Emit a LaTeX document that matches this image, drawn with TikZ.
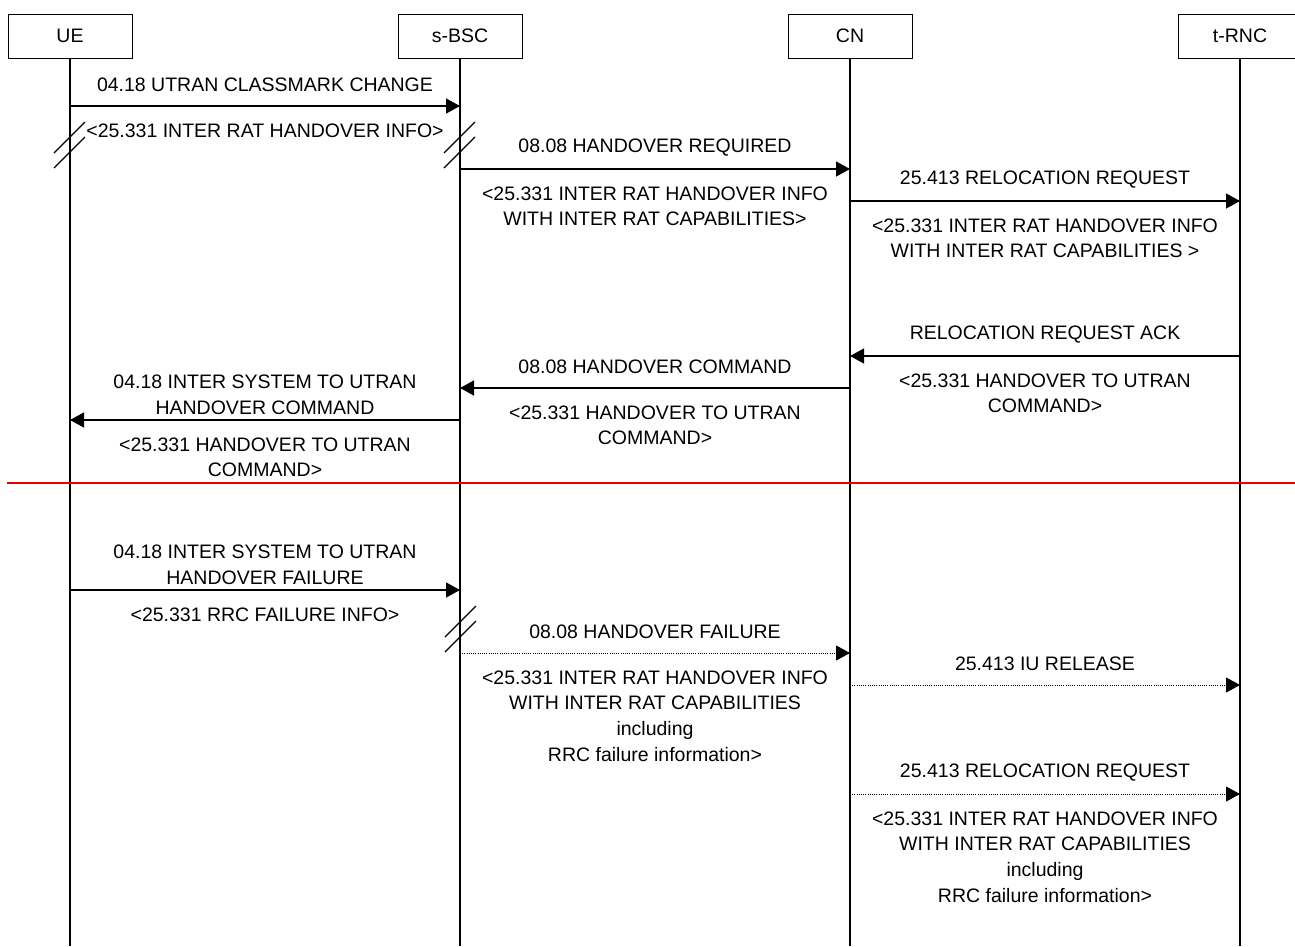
\documentclass[tikz,border=0pt]{standalone}
\usepackage{fontspec}
\setmainfont{Liberation Sans}
\usetikzlibrary{positioning,calc}
\usetikzlibrary{arrows.meta}
\definecolor{SepRed}{RGB}{235,0,0}
\tikzset{
  entity/.style={draw=black,line width=1pt,minimum width=124pt,minimum height=44pt,inner sep=0pt},
  life/.style={draw=black,line width=1.2pt},
  msg/.style={draw=black,line width=1.3pt,-{Triangle[length=14pt,width=15pt]}},
  lostmsg/.style={draw=black,line width=0.9pt,dash pattern=on 1pt off 1.2pt,-{Triangle[length=14pt,width=15pt]}},
  lblup/.style={anchor=center,inner sep=0pt,yshift=21.5pt,align=center},
  lblupp/.style={lblup,yshift=3.5pt},
  lbldn/.style={anchor=north,inner sep=0pt,yshift=-17pt,align=center},
  brk/.style={draw=black,line width=1.1pt},
}
\newcommand{\brkmark}[2]{\draw[brk] (#1,#2) -- ++(31,-31) (#1,#2-15) -- ++(31,-31);}

\begin{document}
\begin{tikzpicture}[x=1pt,y=-1pt,font=\fontsize{19.5}{25.7}\selectfont]
\useasboundingbox[fill=white] (0,0) rectangle (1295,946);
% entities
\node[entity] (ue) at (70,36) {UE};
\node[entity] (bsc) at (460,36) {s-BSC};
\node[entity] (cn) at (850,36) {CN};
\node[entity] (rnc) at (1240,36) {t-RNC};
\coordinate (bot) at (0,946);
\draw[life] (ue) -- (ue |- bot);
\draw[life] (bsc) -- (bsc |- bot);
\draw[life] (cn) -- (cn |- bot);
\draw[life] (rnc) -- (rnc |- bot);
% message rows
\coordinate (m1) at (0,106);
\coordinate (m2) at (0,169);
\coordinate (m3) at (0,201);
\coordinate (m4) at (0,356);
\coordinate (m5) at (0,388);
\coordinate (m6) at (0,420);
\coordinate (m7) at (0,590);
\coordinate (m8) at (0,653);
\coordinate (m9) at (0,685);
\coordinate (m10) at (0,794);
% successful part
\draw[msg] (ue |- m1) -- node[lblup] {04.18 UTRAN CLASSMARK CHANGE}
  node[lbldn] {<25.331 INTER RAT HANDOVER INFO>} (bsc |- m1);
\draw[msg] (bsc |- m2) -- node[lblup] {08.08 HANDOVER REQUIRED}
  node[lbldn] {<25.331 INTER RAT HANDOVER INFO\\WITH INTER RAT CAPABILITIES>} (cn |- m2);
\draw[msg] (cn |- m3) -- node[lblup] {25.413 RELOCATION REQUEST}
  node[lbldn] {<25.331 INTER RAT HANDOVER INFO\\WITH INTER RAT CAPABILITIES >} (rnc |- m3);
\draw[msg] (rnc |- m4) -- node[lblup] {RELOCATION REQUEST ACK}
  node[lbldn] {<25.331 HANDOVER TO UTRAN\\COMMAND>} (cn |- m4);
\draw[msg] (cn |- m5) -- node[lblup] {08.08 HANDOVER COMMAND}
  node[lbldn] {<25.331 HANDOVER TO UTRAN\\COMMAND>} (bsc |- m5);
\draw[msg] (bsc |- m6) -- node[lblupp] {04.18 INTER SYSTEM TO UTRAN\\HANDOVER COMMAND}
  node[lbldn] {<25.331 HANDOVER TO UTRAN\\COMMAND>} (ue |- m6);
\brkmark{54}{168}
\brkmark{444}{168}
% separator
\draw[SepRed,line width=1.3pt] (7,483) -- (1295,483);
% failure part
\draw[msg] (ue |- m7) -- node[lblupp] {04.18 INTER SYSTEM TO UTRAN\\HANDOVER FAILURE}
  node[lbldn] {<25.331 RRC FAILURE INFO>} (bsc |- m7);
\draw[lostmsg] (bsc |- m8) -- node[lblup] {08.08 HANDOVER FAILURE}
  node[lbldn] {<25.331 INTER RAT HANDOVER INFO\\WITH INTER RAT CAPABILITIES\\including\\RRC failure information>} (cn |- m8);
\draw[lostmsg] (cn |- m9) -- node[lblup] {25.413 IU RELEASE} (rnc |- m9);
\draw[lostmsg] (cn |- m10) -- node[lblup] {25.413 RELOCATION REQUEST}
  node[lbldn] {<25.331 INTER RAT HANDOVER INFO\\WITH INTER RAT CAPABILITIES\\including\\RRC failure information>} (rnc |- m10);
\brkmark{445}{652}
\end{tikzpicture}
\end{document}
